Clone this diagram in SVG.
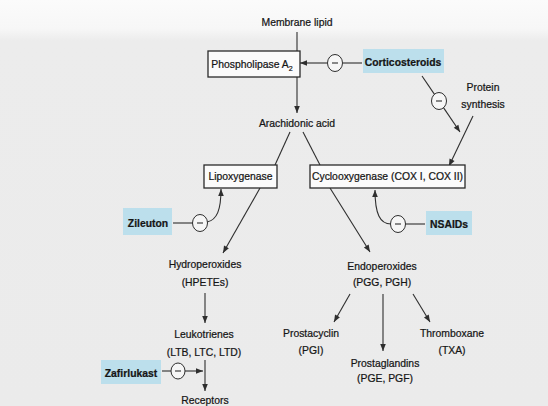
<svg xmlns="http://www.w3.org/2000/svg" width="548" height="406" viewBox="0 0 548 406">
<style>
.t{font-family:"Liberation Sans",Arial,Helvetica,sans-serif;font-size:11.8px;text-anchor:middle;fill:#151515;stroke:#151515;stroke-width:0.25}
.b{font-weight:bold}
.box{fill:#fbfbfb;stroke:#2a2a2a;stroke-width:1.3}
.hl{fill:#bcdfec;stroke:none}
.ln{fill:none;stroke:#2e2e2e;stroke-width:1.1}
.arr{marker-end:url(#ah)}
.inh{fill:#f6f6f6;stroke:#2e2e2e;stroke-width:1}
</style>
<defs>
<marker id="ah" viewBox="0 0 10 10" refX="10" refY="5" markerWidth="8" markerHeight="7" markerUnits="userSpaceOnUse" orient="auto"><path d="M0,1 L10,5 L0,9 z" fill="#2e2e2e"/></marker>
<linearGradient id="bg" x1="0" y1="0" x2="0" y2="1"><stop offset="0" stop-color="#fbfbfb"/><stop offset="0.07" stop-color="#f7f7f7"/><stop offset="0.1" stop-color="#ececec"/><stop offset="1" stop-color="#ebebeb"/></linearGradient>
</defs>
<rect x="0" y="0" width="548" height="406" fill="url(#bg)"/>

<g id="connectors">
<line class="ln" x1="297" y1="32" x2="297" y2="51"/>
<line class="ln arr" x1="297" y1="77" x2="297" y2="113"/>
<line class="ln" x1="362" y1="63" x2="343" y2="63"/>
<line class="ln arr" x1="327" y1="63" x2="300" y2="63"/>
<line class="ln" x1="422" y1="76" x2="434.5" y2="94.4"/>
<line class="ln arr" x1="443.5" y1="107.6" x2="460" y2="132"/>
<line class="ln arr" x1="473" y1="116" x2="449" y2="166"/>
<line class="ln" x1="290" y1="132" x2="275" y2="165"/>
<line class="ln arr" x1="260" y1="188" x2="223" y2="253"/>
<line class="ln" x1="303" y1="132" x2="320" y2="165"/>
<line class="ln arr" x1="330" y1="188" x2="370" y2="252"/>
<line class="ln" x1="173" y1="223" x2="193" y2="223"/>
<path class="ln arr" d="M207,222 C217,220 221,210 221,189"/>
<line class="ln" x1="425" y1="224" x2="405" y2="224"/>
<path class="ln arr" d="M391,224 C380,224 375,214 375,190"/>
<line class="ln arr" x1="205" y1="293" x2="205" y2="323"/>
<line class="ln arr" x1="205" y1="360" x2="205" y2="391"/>
<line class="ln" x1="162" y1="371" x2="171" y2="371"/>
<line class="ln arr" x1="185" y1="371" x2="203" y2="371"/>
<line class="ln arr" x1="350" y1="294" x2="334" y2="322"/>
<line class="ln arr" x1="383" y1="294" x2="383" y2="351"/>
<line class="ln arr" x1="413" y1="294" x2="430" y2="322"/>
<ellipse class="inh" cx="335" cy="63" rx="7.5" ry="8.5"/><line class="ln" x1="332" y1="63" x2="338" y2="63"/>
<ellipse class="inh" cx="439" cy="101" rx="7.5" ry="8.5"/><line class="ln" x1="436" y1="101" x2="442" y2="101"/>
<ellipse class="inh" cx="200" cy="223" rx="7.5" ry="8.5"/><line class="ln" x1="197" y1="223" x2="203" y2="223"/>
<ellipse class="inh" cx="398" cy="224" rx="7.5" ry="8.5"/><line class="ln" x1="395" y1="224" x2="401" y2="224"/>
<ellipse class="inh" cx="178" cy="371" rx="7" ry="8"/><line class="ln" x1="175" y1="371" x2="181" y2="371"/>
</g>

<g id="membrane-lipid"><text class="t" transform="translate(297 26) scale(.88 1)">Membrane lipid</text></g>
<g id="phospholipase"><rect class="box" x="208" y="51" width="92" height="26"/><text class="t" transform="translate(252 68) scale(.88 1)">Phospholipase A<tspan font-size="8" dy="3">2</tspan></text></g>
<g id="corticosteroids"><rect class="hl" x="363" y="49" width="81" height="24"/><text class="t b" transform="translate(403 66) scale(.88 1)">Corticosteroids</text></g>
<g id="protein-synthesis"><text class="t" transform="translate(483 91) scale(.88 1)">Protein</text><text class="t" transform="translate(483 108) scale(.88 1)">synthesis</text></g>
<g id="arachidonic-acid"><text class="t" transform="translate(297 127) scale(.88 1)">Arachidonic acid</text></g>
<g id="lipoxygenase"><rect class="box" x="204" y="165" width="73" height="23"/><text class="t" transform="translate(240.5 180) scale(.88 1)">Lipoxygenase</text></g>
<g id="cyclooxygenase"><rect class="box" x="310" y="165" width="155" height="23"/><text class="t" transform="translate(387.5 180) scale(.88 1)">Cyclooxygenase (COX I, COX II)</text></g>
<g id="zileuton"><rect class="hl" x="123" y="208" width="49" height="27"/><text class="t b" transform="translate(148 227) scale(.88 1)">Zileuton</text></g>
<g id="nsaids"><rect class="hl" x="426" y="211" width="46" height="24"/><text class="t b" transform="translate(449 228) scale(.88 1)">NSAIDs</text></g>
<g id="hydroperoxides"><text class="t" transform="translate(205 268) scale(.88 1)">Hydroperoxides</text><text class="t" transform="translate(205 286) scale(.88 1)">(HPETEs)</text></g>
<g id="endoperoxides"><text class="t" transform="translate(382 270) scale(.88 1)">Endoperoxides</text><text class="t" transform="translate(382 286) scale(.88 1)">(PGG, PGH)</text></g>
<g id="leukotrienes"><text class="t" transform="translate(204 338) scale(.88 1)">Leukotrienes</text><text class="t" transform="translate(204 356) scale(.88 1)">(LTB, LTC, LTD)</text></g>
<g id="prostacyclin"><text class="t" transform="translate(311 337) scale(.88 1)">Prostacyclin</text><text class="t" transform="translate(311 354) scale(.88 1)">(PGI)</text></g>
<g id="thromboxane"><text class="t" transform="translate(452 337) scale(.88 1)">Thromboxane</text><text class="t" transform="translate(452 354) scale(.88 1)">(TXA)</text></g>
<g id="prostaglandins"><text class="t" transform="translate(385 367) scale(.88 1)">Prostaglandins</text><text class="t" transform="translate(385 382) scale(.88 1)">(PGE, PGF)</text></g>
<g id="zafirlukast"><rect class="hl" x="101" y="360" width="60" height="24"/><text class="t b" transform="translate(131 377) scale(.88 1)">Zafirlukast</text></g>
<g id="receptors"><text class="t" transform="translate(205 404) scale(.88 1)">Receptors</text></g>
</svg>
